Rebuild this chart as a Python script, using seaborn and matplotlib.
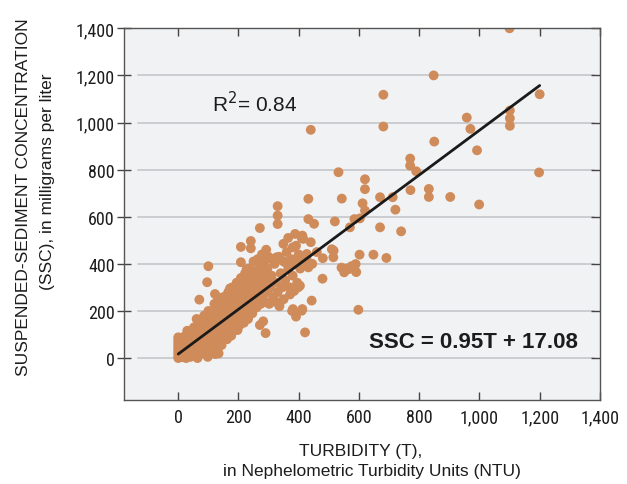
import matplotlib
matplotlib.use("Agg")
import matplotlib.pyplot as plt
import seaborn as sns
import pandas as pd
import numpy as np
from matplotlib import font_manager

# ---- data (turbidity NTU, SSC mg/L) ----
near_origin = [
    (0, 0), (0, 12), (0, 25), (0, 38), (0, 50), (0, 62), (0, 75), (0, 88), (4, 6), (5, 30),
    (6, 55), (8, 18), (10, 42), (10, 70), (14, 4), (15, 28), (16, 60), (18, 90), (20, 15),
    (22, 45), (24, 72), (26, 0), (28, 32), (30, 55), (30, 116), (32, 100), (34, 18), (36, 80),
    (38, 42), (40, 5), (42, 62), (44, 28), (46, 110), (48, 85), (50, 12), (50, 50), (52, 130),
    (55, 35), (56, 70), (58, 100), (60, 20), (61, 166), (62, 55), (64, 0), (66, 85), (68, 125),
    (70, 40), (70, 248), (72, 160), (74, 65), (76, 105), (78, 20), (80, 140), (82, 50), (84, 85),
    (86, 180), (88, 120), (90, 30), (92, 70), (94, 155), (96, 100), (96, 322), (98, 5),
    (100, 200), (100, 130), (100, 390),
]
low_range = [
    (102, 50), (104, 85), (106, 170), (108, 115), (110, 25), (112, 145), (114, 65), (116, 190),
    (118, 100), (120, 230), (122, 135), (122, 272), (123, 17), (124, 40), (126, 165), (128, 80),
    (130, 205), (132, 120), (132, 258), (134, 20), (136, 150), (138, 245), (140, 95), (142, 180),
    (144, 55), (146, 215), (148, 130), (150, 160), (152, 260), (154, 100), (156, 195), (158, 140),
    (160, 230), (162, 80), (164, 175), (166, 280), (168, 120), (170, 210), (172, 155), (172, 296),
    (174, 250), (176, 95), (178, 190), (180, 300), (182, 140), (184, 230), (186, 170), (188, 270),
    (190, 120), (192, 205), (194, 320), (196, 160), (197, 119), (198, 245), (200, 185), (200, 272),
]
mid_low_range = [
    (202, 290), (203, 276), (204, 140), (206, 220), (208, 340), (208, 407), (208, 472), (210, 175),
    (212, 260), (214, 200), (216, 310), (218, 150), (220, 240), (222, 360), (224, 195),
    (226, 280), (227, 378), (228, 225), (230, 330), (232, 166), (234, 260), (235, 347), (236, 380),
    (238, 210), (240, 300), (241, 466), (241, 497), (242, 240), (244, 350), (246, 190),
    (248, 280), (250, 410), (252, 230), (254, 320), (256, 260), (258, 370), (260, 215), (262, 300),
    (264, 420), (266, 250), (268, 340), (270, 280), (271, 140), (271, 357), (271, 552), (272, 390),
    (274, 230), (276, 320), (278, 440), (280, 265), (282, 156), (282, 360), (284, 300), (286, 410),
    (288, 240), (288, 385), (290, 106), (290, 340), (292, 460), (294, 280), (296, 380), (298, 320),
    (300, 430), (302, 230), (305, 300), (310, 350), (310, 421),
]
mid_range = [
    (315, 260), (316, 420), (320, 240), (320, 400), (325, 320), (327, 428), (330, 280), (330, 569),
    (330, 605), (330, 645), (335, 430), (336, 220), (338, 237), (340, 360), (345, 300),
    (349, 485), (350, 250), (350, 410), (355, 330), (355, 407), (360, 450), (365, 380),
    (365, 510), (370, 300), (371, 270), (375, 420), (378, 200), (380, 350), (380, 470),
    (381, 208), (385, 285), (388, 527), (390, 400), (391, 176), (391, 477), (395, 320), (398, 300),
    (400, 440), (404, 307), (404, 432), (405, 380), (410, 201), (410, 509), (412, 208), (412, 520),
    (415, 420), (415, 506), (421, 109), (426, 421), (427, 442), (430, 400), (432, 385), (432, 590),
    (432, 676), (440, 492), (440, 969), (443, 244), (445, 400), (451, 570),
]
upper_range = [
    (460, 450), (480, 424), (479, 337), (510, 462), (515, 428), (516, 456), (520, 580),
    (532, 789), (542, 384), (543, 677), (551, 364), (560, 380), (568, 378), (570, 555), (575, 390),
    (585, 590), (589, 399), (591, 365), (598, 205), (602, 439), (603, 593), (612, 657), (620, 626),
    (620, 717), (620, 759), (648, 439), (670, 555), (670, 683), (681, 983), (681, 1118), (691, 425),
]
high_range = [
    (712, 683), (721, 630), (740, 538), (771, 713), (770, 847), (770, 817), (790, 793), (832, 718),
    (832, 684), (848, 1200), (850, 919), (903, 684), (958, 1021), (970, 973), (992, 882),
    (999, 652), (1100, 1400), (1101, 1051), (1101, 1018), (1101, 986), (1198, 788), (1200, 1120),
]

fit_slope = 0.95
fit_intercept = 17.08
fit_range = [0, 1200]
r_squared_text = "R$^2$= 0.84"
equation_text = "SSC = 0.95T + 17.08"

x_ticks = [0, 200, 400, 600, 800, 1000, 1200, 1400]
x_tick_labels = ["0", "200", "400", "600", "800", "1,000", "1,200", "1,400"]
y_ticks = [0, 200, 400, 600, 800, 1000, 1200, 1400]
y_tick_labels = ["0", "200", "400", "600", "800", "1,000", "1,200", "1,400"]
grid_levels = [0, 200, 400, 600, 800, 1000, 1200]

# ---- build frame ----
pts = near_origin + low_range + mid_low_range + mid_range + upper_range + high_range
df = pd.DataFrame(pts, columns=["turbidity", "ssc"])
fit_x = np.array(fit_range, dtype=float)
fit_df = pd.DataFrame({"turbidity": fit_x, "ssc": fit_slope * fit_x + fit_intercept})

sns.set_theme(style="white")
plt.rcParams['font.family'] = ['Liberation Sans', 'DejaVu Sans']

# pick a condensed face for tick labels if one is installed
available = {f.name for f in font_manager.fontManager.ttflist}
condensed_candidates = ['Liberation Sans Narrow', 'Roboto Condensed', 'Noto Sans Condensed',
                        'Open Sans Condensed', 'DejaVu Sans Condensed']
cond = [c for c in condensed_candidates if c in available]
tick_font = (cond[:1] if cond else []) + ['Liberation Sans', 'DejaVu Sans']
cond_stretch = 'normal'
if not cond:
    for fam in ['Noto Sans', 'Open Sans', 'Roboto']:
        faces = [f for f in font_manager.fontManager.ttflist
                 if f.name == fam and str(f.stretch) in ('condensed', 'semi-condensed', '75', '87')]
        if faces:
            tick_font = [fam, 'Liberation Sans', 'DejaVu Sans']
            cond_stretch = 'condensed'
            break

text_color = '#1c1c1c'

fig = plt.figure(figsize=(6.27, 4.85), dpi=100)
ax = fig.add_axes([0.1978, 0.1732, 0.759, 0.7664])
ax.set_facecolor('#f1f2f4')

for g in grid_levels:
    ax.axhline(g, xmin=0.03, xmax=0.988, color='#c8cacd', lw=1.3, zorder=0)

sns.scatterplot(data=df, x="turbidity", y="ssc", ax=ax, s=50, color='#d08b5a',
                edgecolor='none', linewidth=0, zorder=2, legend=False)
sns.lineplot(data=fit_df, x="turbidity", y="ssc", ax=ax, color='#1a1a1a', lw=2.0, zorder=3)

ax.set_xlim(-180, 1400)
ax.set_ylim(-178, 1400)

ax.set_xticks(x_ticks)
ax.set_xticklabels(x_tick_labels)
ax.set_yticks(y_ticks)
ax.set_yticklabels(y_tick_labels)

for lab in ax.get_xticklabels() + ax.get_yticklabels():
    lab.set_family(tick_font)
    lab.set_stretch(cond_stretch)
    lab.set_fontsize(13)
    lab.set_color(text_color)

ax.tick_params(axis='x', which='both', bottom=True, top=True, direction='in',
               length=6, width=1, color='#444444', pad=6)
ax.tick_params(axis='y', which='both', left=True, right=True, direction='inout',
               length=10, width=1, color='#444444', pad=1.5)
for t in ax.yaxis.get_major_ticks():
    t.tick2line.set_marker(matplotlib.lines.TICKLEFT)
    t.tick2line.set_markersize(6.5)

for sp in ax.spines.values():
    sp.set_color('#555555')
    sp.set_linewidth(1.0)

ax.set_xlabel("")
ax.set_ylabel("")

ax.text(111, 1050, r_squared_text, fontsize=15, color=text_color, ha='left', va='baseline')
ax.text(635, 45, equation_text, fontsize=16, fontweight='bold', color=text_color,
        ha='left', va='baseline')

fig.text(0.575, 1 - 452 / 485, "TURBIDITY (T),", ha='center', va='center', fontsize=12.5,
         color=text_color)
fig.text(0.593, 1 - 472 / 485, "in Nephelometric Turbidity Units (NTU)", ha='center',
         va='center', fontsize=12.5, color=text_color)
fig.text(24 / 627, 1 - 197 / 485, "SUSPENDED-SEDIMENT CONCENTRATION", rotation=90,
         ha='center', va='center', fontsize=12.5, color=text_color)
fig.text(48 / 627, 1 - 182 / 485, "(SSC), in milligrams per liter", rotation=90,
         ha='center', va='center', fontsize=12.5, color=text_color)

fig.savefig("out.png", dpi=100, facecolor='white')
